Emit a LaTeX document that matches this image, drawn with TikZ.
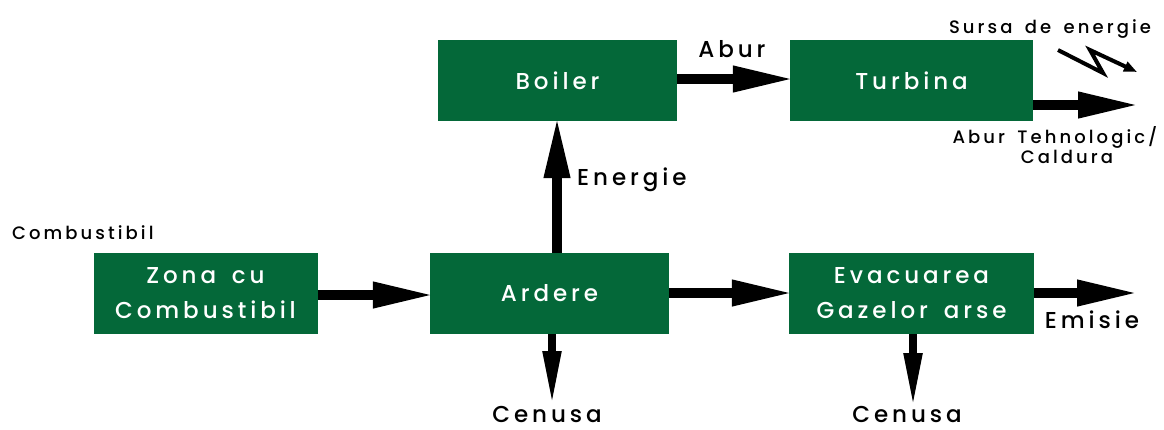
\documentclass[tikz,border=0pt]{standalone}
\usepackage{fontspec}
\newfontfamily\pop[LetterSpace=17,WordSpace=1.6]{Poppins Medium}
\usetikzlibrary{arrows.meta}
\definecolor{boxgreen}{RGB}{4,104,57}
\tikzset{
  box/.style={fill=boxgreen, draw=none, text=white, align=center, inner sep=0pt,
    font=\pop\fontsize{23}{35}\selectfont},
  lbl/.style={text=black, inner sep=0pt, anchor=base, font=\pop\fontsize{23}{28}\selectfont},
  slbl/.style={text=black, inner sep=0pt, anchor=base, font=\pop\fontsize{18}{20}\selectfont},
  bigarrow/.style={line width=10pt, shorten >=-5pt, -{Triangle[length=62pt,width=24pt]}},
  downarrow/.style={line width=8pt, shorten >=-4pt, -{Triangle[length=55pt,width=17pt]}},
}
\begin{document}
\begin{tikzpicture}[x=1pt,y=-1pt]
\useasboundingbox (0,0) rectangle (1164,429);
% boxes
\node[box, minimum width=239pt, minimum height=81pt] (boiler) at (557.5,80.5) {Boiler};
\node[box, minimum width=243pt, minimum height=81pt] (turbina) at (911.5,80.5) {Turbina};
\node[box, minimum width=224pt, minimum height=81pt] (zona) at (205.5,293.5) {Zona cu\\Combustibil};
\node[box, minimum width=239pt, minimum height=81pt] (ardere) at (549.5,293.5) {Ardere};
\node[box, minimum width=245pt, minimum height=81pt] (evac) at (911.5,293.5) {Evacuarea\\Gazelor arse};
% free ends
\coordinate (turbout) at (1135,105);
\coordinate (emisout) at (1134,293);
\coordinate (cen1) at (552,402);
\coordinate (cen2) at (913,404);
\coordinate (l1) at (1058,50);
\coordinate (l2) at (1103,73);
\coordinate (l3) at (1090,50);
\coordinate (l4) at (1137,72);
% arrows
\draw[bigarrow] (zona.east |- 0,295) -- (ardere.west |- 0,295);
\draw[bigarrow] (ardere.east |- 0,293) -- (evac.west |- 0,293);
\draw[bigarrow] (evac.east |- 0,293) -- (emisout);
\draw[bigarrow] (boiler.east |- 0,79) -- (turbina.west |- 0,79);
\draw[bigarrow] (turbina.east |- 0,105) -- (turbout);
\draw[bigarrow] (ardere.north -| 557,0) -- (boiler.south -| 557,0);
\draw[downarrow] (ardere.south -| cen1) -- (cen1);
\draw[downarrow] (evac.south -| cen2) -- (cen2);
\draw[line width=4pt, line join=miter, -{Triangle[length=13pt,width=10pt]}] (l1) -- (l2) -- (l3) -- (l4);
% labels
\node[lbl] (abur) at (732,57) {Abur};
\node[lbl, anchor=base west] (energie) at (577,185) {Energie};
\node[lbl] (cenusa1) at (547,422) {Cenusa};
\node[lbl] (cenusa2) at (907,422) {Cenusa};
\node[lbl] (emisie) at (1092,328) {Emisie};
\node[slbl] (sursa) at (1050,33) {Sursa de energie};
\node[slbl] (aburteh) at (1055,143) {Abur Tehnologic/};
\node[slbl] (caldura) at (1067,163) {Caldura};
\node[slbl, anchor=base west] (comb) at (12,239) {Combustibil};
\end{tikzpicture}
\end{document}
